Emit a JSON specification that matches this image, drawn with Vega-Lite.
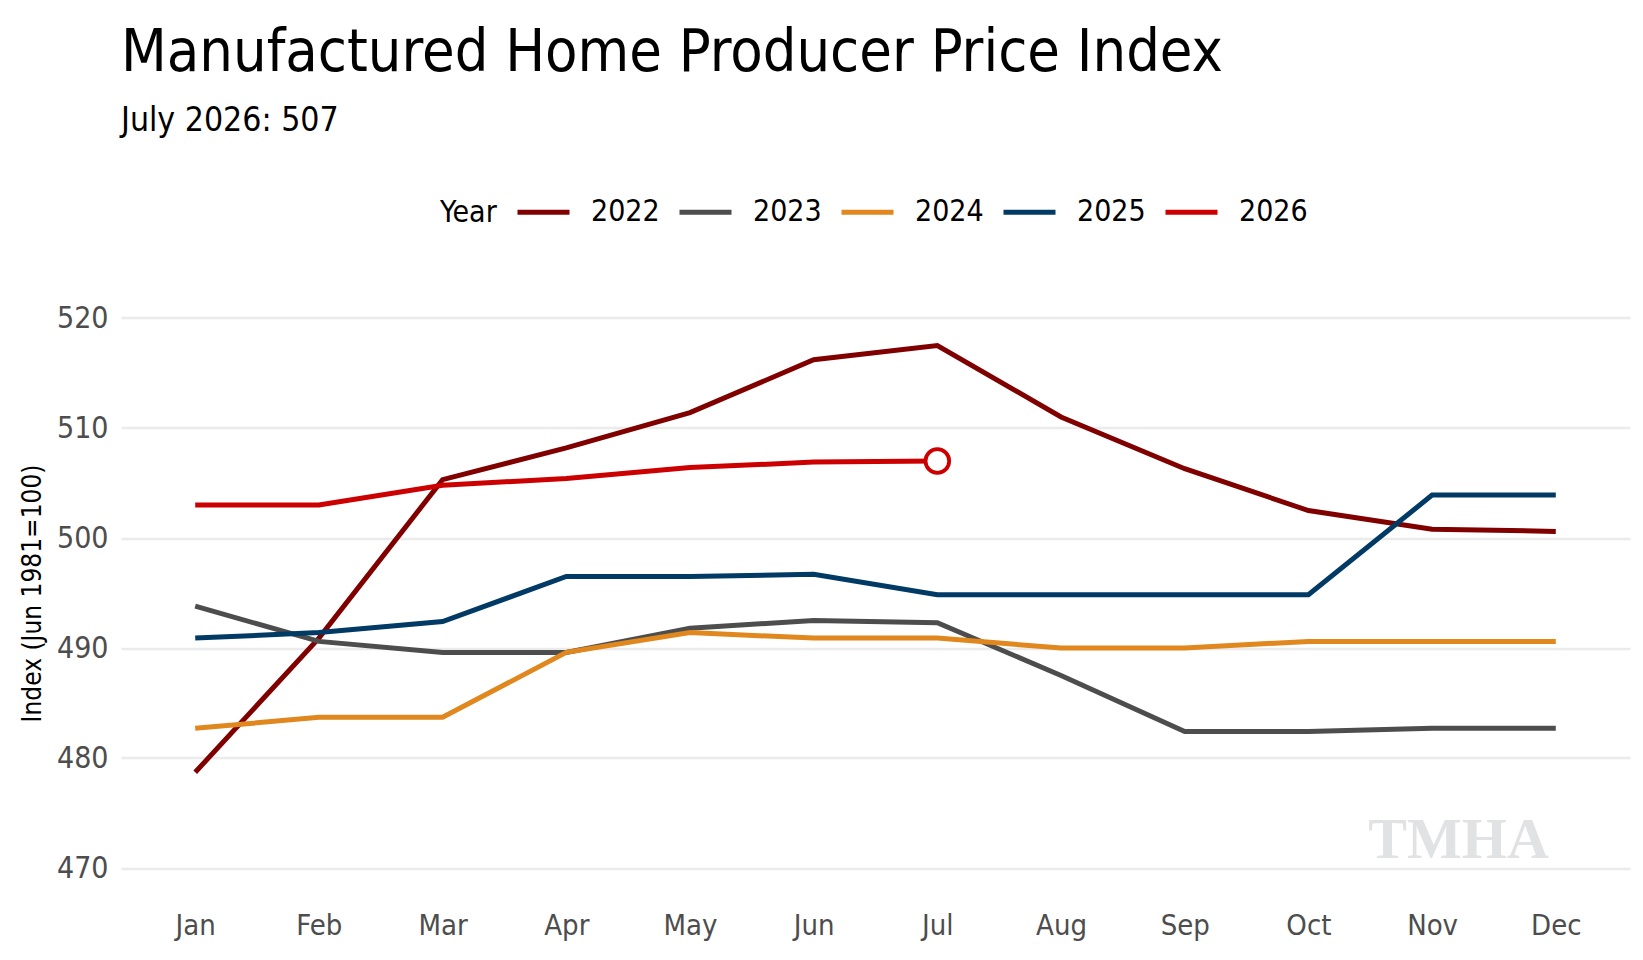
{
  "$schema": "https://vega.github.io/schema/vega-lite/v6.json",
  "autosize": {"type": "none"},
  "padding": {"left": 121, "top": 301.5, "right": 13, "bottom": 75.5},
  "width": 1509,
  "height": 583,
  "background": "white",
  "title": {
    "text": "Manufactured Home Producer Price Index",
    "subtitle": "July 2026: 507",
    "anchor": "start",
    "frame": "group",
    "fontSize": 59,
    "fontWeight": "normal",
    "color": "black",
    "subtitleFontSize": 33.5,
    "subtitleColor": "black",
    "subtitlePadding": 22,
    "offset": 46
  },
  "datasets": {
    "ppi": [
      {"year": "2022", "month": "Jan", "value": 478.7},
      {"year": "2022", "month": "Feb", "value": 490.9},
      {"year": "2022", "month": "Mar", "value": 505.3},
      {"year": "2022", "month": "Apr", "value": 508.2},
      {"year": "2022", "month": "May", "value": 511.4},
      {"year": "2022", "month": "Jun", "value": 516.2},
      {"year": "2022", "month": "Jul", "value": 517.5},
      {"year": "2022", "month": "Aug", "value": 511.0},
      {"year": "2022", "month": "Sep", "value": 506.3},
      {"year": "2022", "month": "Oct", "value": 502.5},
      {"year": "2022", "month": "Nov", "value": 500.8},
      {"year": "2022", "month": "Dec", "value": 500.6},
      {"year": "2023", "month": "Jan", "value": 493.8},
      {"year": "2023", "month": "Feb", "value": 490.6},
      {"year": "2023", "month": "Mar", "value": 489.6},
      {"year": "2023", "month": "Apr", "value": 489.6},
      {"year": "2023", "month": "May", "value": 491.8},
      {"year": "2023", "month": "Jun", "value": 492.5},
      {"year": "2023", "month": "Jul", "value": 492.3},
      {"year": "2023", "month": "Aug", "value": 487.5},
      {"year": "2023", "month": "Sep", "value": 482.4},
      {"year": "2023", "month": "Oct", "value": 482.4},
      {"year": "2023", "month": "Nov", "value": 482.7},
      {"year": "2023", "month": "Dec", "value": 482.7},
      {"year": "2024", "month": "Jan", "value": 482.7},
      {"year": "2024", "month": "Feb", "value": 483.7},
      {"year": "2024", "month": "Mar", "value": 483.7},
      {"year": "2024", "month": "Apr", "value": 489.6},
      {"year": "2024", "month": "May", "value": 491.4},
      {"year": "2024", "month": "Jun", "value": 490.9},
      {"year": "2024", "month": "Jul", "value": 490.9},
      {"year": "2024", "month": "Aug", "value": 490.0},
      {"year": "2024", "month": "Sep", "value": 490.0},
      {"year": "2024", "month": "Oct", "value": 490.6},
      {"year": "2024", "month": "Nov", "value": 490.6},
      {"year": "2024", "month": "Dec", "value": 490.6},
      {"year": "2025", "month": "Jan", "value": 490.9},
      {"year": "2025", "month": "Feb", "value": 491.4},
      {"year": "2025", "month": "Mar", "value": 492.4},
      {"year": "2025", "month": "Apr", "value": 496.5},
      {"year": "2025", "month": "May", "value": 496.5},
      {"year": "2025", "month": "Jun", "value": 496.7},
      {"year": "2025", "month": "Jul", "value": 494.85},
      {"year": "2025", "month": "Aug", "value": 494.85},
      {"year": "2025", "month": "Sep", "value": 494.85},
      {"year": "2025", "month": "Oct", "value": 494.85},
      {"year": "2025", "month": "Nov", "value": 503.9},
      {"year": "2025", "month": "Dec", "value": 503.9},
      {"year": "2026", "month": "Jan", "value": 503.0},
      {"year": "2026", "month": "Feb", "value": 503.0},
      {"year": "2026", "month": "Mar", "value": 504.8},
      {"year": "2026", "month": "Apr", "value": 505.4},
      {"year": "2026", "month": "May", "value": 506.4},
      {"year": "2026", "month": "Jun", "value": 506.9},
      {"year": "2026", "month": "Jul", "value": 507.0}
    ],
    "logo": [
      {"logo": "TMHA", "month": "Dec", "value": 470.9}
    ]
  },
  "layer": [
    {
      "data": {"name": "ppi"},
      "mark": {"type": "line", "strokeWidth": 5},
      "encoding": {
        "x": {
          "field": "month",
          "type": "ordinal",
          "scale": {
            "type": "point",
            "padding": 0.6,
            "domain": ["Jan", "Feb", "Mar", "Apr", "May", "Jun", "Jul", "Aug", "Sep", "Oct", "Nov", "Dec"]
          },
          "axis": {
            "title": null,
            "labelAngle": 0,
            "labelPadding": 27,
            "labelFontSize": 29,
            "labelColor": "#4d4d4d",
            "ticks": false,
            "domain": false,
            "grid": false
          }
        },
        "y": {
          "field": "value",
          "type": "quantitative",
          "scale": {"domain": [468.5, 521.5], "nice": false, "zero": false},
          "axis": {
            "title": "Index (Jun 1981=100)",
            "titleFontSize": 26,
            "titleFontWeight": "normal",
            "titleColor": "black",
            "titlePadding": 11,
            "values": [470, 480, 490, 500, 510, 520],
            "labelFontSize": 30,
            "labelColor": "#4d4d4d",
            "labelPadding": 13,
            "ticks": false,
            "domain": false,
            "grid": true,
            "gridColor": "#ebebeb",
            "gridWidth": 2.5
          }
        },
        "color": {
          "field": "year",
          "type": "nominal",
          "scale": {
            "domain": ["2022", "2023", "2024", "2025", "2026"],
            "range": ["#800000", "#4d4d4d", "#e0871e", "#003a65", "#cc0000"]
          },
          "legend": {
            "title": "Year",
            "orient": "none",
            "direction": "horizontal",
            "legendX": 319,
            "legendY": -118,
            "titleOrient": "left",
            "titleAnchor": "end",
            "titleBaseline": "bottom",
            "titleFontSize": 30,
            "titleFontWeight": "normal",
            "titleColor": "black",
            "titlePadding": 18,
            "labelFontSize": 30,
            "labelColor": "black",
            "labelOffset": 19,
            "columnPadding": 9,
            "symbolType": "stroke",
            "symbolSize": 2704,
            "symbolStrokeWidth": 5
          }
        }
      }
    },
    {
      "data": {"name": "ppi"},
      "transform": [{"filter": "datum.year == '2026' && datum.month == 'Jul'"}],
      "mark": {
        "type": "point",
        "shape": "circle",
        "size": 560,
        "filled": true,
        "fill": "white",
        "stroke": "#cc0000",
        "strokeWidth": 3.8,
        "opacity": 1
      },
      "encoding": {
        "x": {"field": "month", "type": "ordinal"},
        "y": {"field": "value", "type": "quantitative"}
      }
    },
    {
      "data": {"name": "logo"},
      "mark": {
        "type": "text",
        "font": "Liberation Serif",
        "fontWeight": "bold",
        "fontSize": 58,
        "fill": "#e1e2e4",
        "align": "right",
        "baseline": "alphabetic",
        "dx": -7
      },
      "encoding": {
        "x": {"field": "month", "type": "ordinal"},
        "y": {"field": "value", "type": "quantitative"},
        "text": {"field": "logo"}
      }
    }
  ],
  "config": {
    "font": "DejaVu Sans Condensed, sans-serif",
    "view": {"stroke": null}
  }
}
